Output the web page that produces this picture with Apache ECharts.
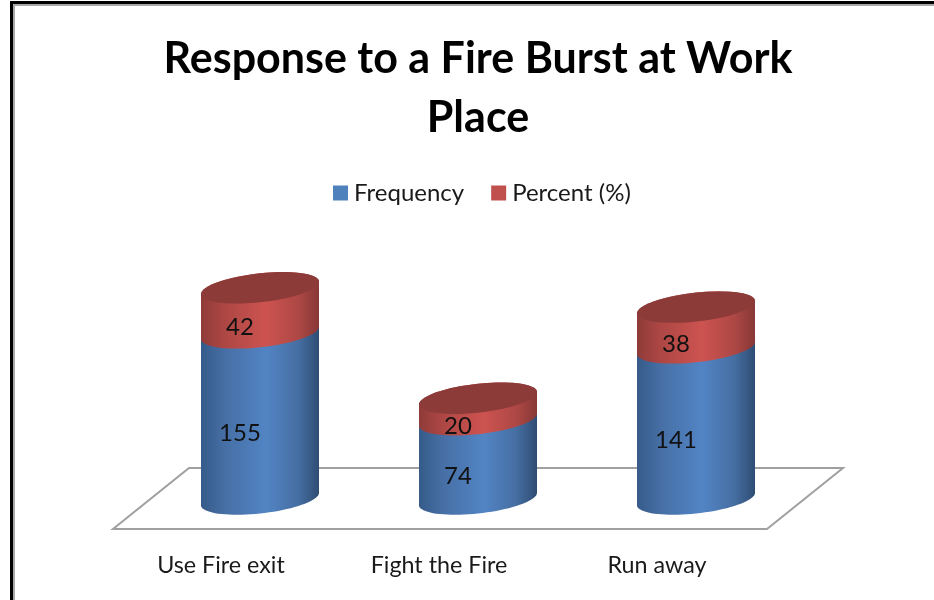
<!DOCTYPE html>
<html>
<head>
<meta charset="utf-8">
<title>Response to a Fire Burst at Work Place</title>
<style>
html, body { margin: 0; padding: 0; background: #fff; }
#chart { width: 934px; height: 600px; }
</style>
<script src="https://cdn.jsdelivr.net/npm/echarts@6/dist/echarts.min.js"></script>
</head>
<body>
<div id="chart"></div>
<script>
const categories = ['Use Fire exit', 'Fight the Fire', 'Run away']
const frequency = [155, 74, 141]
const percent = [42, 20, 38]

// fake 3D: the columns stand half way back on the floor
const depthX = 39, depthY = -30
const labelX = 19, labelY = -13
const halfWidth = 59, ellipseB = 14.5, shear = -0.105

const gradient = stops => new echarts.graphic.LinearGradient(0, 0, 1, 0,
  stops.map(s => ({ offset: s[0], color: s[1] })))

const blueSide = [[0, '#365b89'], [0.2, '#466fa5'], [0.55, '#5284c4'], [0.82, '#466fa3'], [1, '#2f4d74']]
const redSide = [[0, '#8f3b39'], [0.2, '#ad4744'], [0.55, '#cd5350'], [0.82, '#ae4845'], [1, '#883836']]

// point on the sheared ellipse of a column section
const ring = (cx, cy, from, to) => {
  const pts = []
  for (let i = 0; i <= 40; i++) {
    const t = from + (to - from) * i / 40
    const dx = halfWidth * Math.cos(t)
    pts.push([cx + dx, cy + shear * dx + ellipseB * Math.sin(t)])
  }
  return pts
}

const makeRender = (side, top) => (params, api) => {
  const low = api.coord([api.value(0), api.value(1)])
  const high = api.coord([api.value(0), api.value(2)])
  const cx = low[0] + depthX
  const y0 = low[1] + depthY
  const y1 = high[1] + depthY
  // front of the lower ring (left to right) + back of the upper ring
  const body = ring(cx, y0, Math.PI, 0).concat(ring(cx, y1, 0, -Math.PI))
  const children = [{
    type: 'polygon',
    shape: { points: body },
    style: { fill: gradient(side) }
  }]
  if (top) {
    children.push({
      type: 'polygon',
      shape: { points: ring(cx, y1, 0, Math.PI * 2) },
      style: { fill: top }
    })
  }
  children.push({
    type: 'text',
    style: {
      text: String(api.value(2) - api.value(1)),
      x: low[0] + labelX,
      y: (low[1] + high[1]) / 2 + labelY,
      align: 'center',
      verticalAlign: 'middle',
      font: '24px Lato',
      fill: '#111'
    }
  })
  return { type: 'group', children }
}

const chart = echarts.init(document.getElementById('chart'))

const frameBar = (x, y, w, h, fill) => ({
  type: 'rect', silent: true, z: 0,
  shape: { x, y, width: w, height: h },
  style: { fill }
})

chart.setOption({
  animation: false,
  backgroundColor: '#fff',
  title: {
    text: 'Response to a Fire Burst at Work\nPlace',
    left: 473,
    top: 25,
    textAlign: 'center',
    textStyle: { fontFamily: 'Lato', fontWeight: 'bold', fontSize: 43, lineHeight: 59, color: '#000' }
  },
  legend: {
    left: 328,
    top: 176,
    itemWidth: 15,
    itemHeight: 15,
    itemGap: 27,
    icon: 'rect',
    data: ['Frequency', 'Percent (%)'],
    textStyle: { fontFamily: 'Lato', fontSize: 24, color: '#1a1a1a', padding: [0, 0, 0, 1] }
  },
  grid: { left: 112, width: 654, top: 261, height: 268 },
  xAxis: {
    type: 'category',
    data: categories,
    axisLine: { show: false },
    axisTick: { show: false },
    axisLabel: { fontFamily: 'Lato', fontSize: 23.3, color: '#1a1a1a', margin: 25 }
  },
  yAxis: { type: 'value', min: 0, max: 250, show: false },
  graphic: [
    frameBar(10, 1, 924, 3, '#000'),
    frameBar(13, 4, 921, 2, '#a8a8a8'),
    frameBar(10, 1, 3, 599, '#000'),
    frameBar(13, 4, 2, 596, '#a8a8a8'),
    {
      type: 'polygon', silent: true, z: 0,
      shape: { points: [[113, 529], [189, 468], [843, 468], [767, 529]] },
      style: { fill: '#fff', stroke: '#a0a0a0', lineWidth: 2 }
    }
  ],
  series: [
    {
      name: 'Frequency',
      type: 'custom',
      z: 3,
      itemStyle: { color: '#4f81bd' },
      encode: { x: 0, y: 2 },
      data: frequency.map((v, i) => [i, 0, v]),
      renderItem: makeRender(blueSide, null)
    },
    {
      name: 'Percent (%)',
      type: 'custom',
      z: 4,
      itemStyle: { color: '#c0504d' },
      encode: { x: 0, y: 2 },
      data: percent.map((v, i) => [i, frequency[i], frequency[i] + v]),
      renderItem: makeRender(redSide, '#8c3b39')
    }
  ]
})
</script>
</body>
</html>
